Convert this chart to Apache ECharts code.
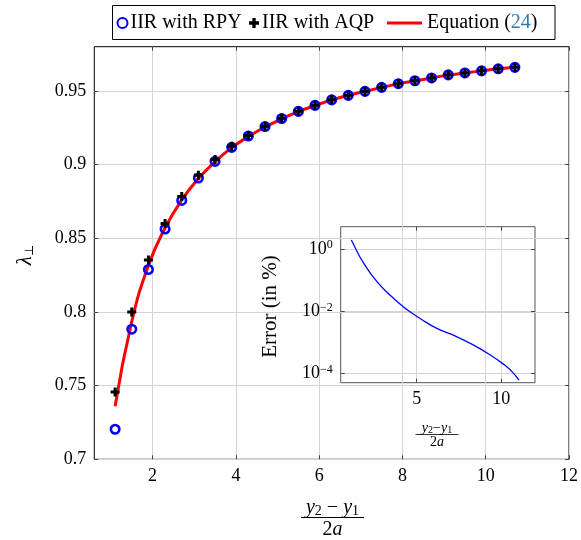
<!DOCTYPE html>
<html><head><meta charset="utf-8">
<script src="https://cdn.jsdelivr.net/npm/echarts@6/dist/echarts.min.js"></script>
<style>html,body{margin:0;padding:0;background:#fff}#c{width:581px;height:540px}</style>
</head><body><div id="c"></div>
<script>
// ---- data ----
const xVals = [1.1,1.5,1.9,2.3,2.7,3.1,3.5,3.9,4.3,4.7,5.1,5.5,5.9,6.3,6.7,7.1,7.5,7.9,8.3,8.7,9.1,9.5,9.9,10.3,10.7];
const rpy = [0.7204,0.7883,0.8288,0.8563,0.8757,0.8909,0.9022,0.9117,0.9194,0.9258,0.9313,0.9361,0.9402,0.9439,0.9470,0.9497,0.9524,0.9549,0.9569,0.9588,0.9609,0.9622,0.9636,0.9650,0.9660];
const aqp = [0.7457,0.8000,0.8352,0.8601,0.8784,0.8927,0.9035,0.9124,0.9198,0.9260,0.9315,0.9362,0.9403,0.9440,0.9471,0.9498,0.9525,0.9549,0.9569,0.9588,0.9609,0.9622,0.9636,0.9650,0.9660];
const eqn = [0.7360,0.7935,0.8315,0.8570,0.8760,0.8905,0.9020,0.9115,0.9190,0.9255,0.9310,0.9360,0.9400,0.9438,0.9470,0.9497,0.9523,0.9548,0.9568,0.9588,0.9607,0.9622,0.9636,0.9650,0.9660];
const errX = [1.13,1.38,1.63,2.02,2.22,2.71,3.21,3.61,4.20,4.60,5.20,6.19,7.38,8.37,9.36,10.15,10.65,11.05];
const errVals = [2.0,1.07,0.575,0.263,0.182,0.0832,0.0427,0.0269,0.0141,0.00977,0.00589,0.00282,0.00151,0.000813,0.000389,0.000195,0.000112,0.0000603];
const xTicks = [2,4,6,8,10,12];
const yTicks = [0.7,0.75,0.8,0.85,0.9,0.95];
const insetXTicks = [5,10];
const insetYTicks = [0.0001,0.01,1];
const seriesNames = ['IIR with RPY','IIR with AQP','Equation (24)'];

const FONT = '"Liberation Serif", "DejaVu Serif", serif';
const gridColor = '#d4d4d4';
const chart = echarts.init(document.getElementById('c'), null, {renderer:'canvas'});

function xAx(grid, min, max, ticks, pos, showLabel, split, fs){
  return {type:'value', gridIndex:grid, min:min, max:max, position:pos,
    axisLine:{show:false},
    axisTick:{show:true, inside:true, length:4, customValues:ticks, lineStyle:{color:'#444'}},
    axisLabel:{show:showLabel, customValues:ticks, fontFamily:FONT, fontSize:fs, color:'#000', margin:8},
    splitLine:{show:split, lineStyle:{color:gridColor, width:1}}};
}
const plusPath = 'path://M3,0H6V3H9V6H6V9H3V6H0V3H3Z';

const option = {
  animation:false,
  backgroundColor:'#fff',
  grid:[
    {left:94.3, top:46.7, width:478, height:412.6, show:true, borderColor:'#000', borderWidth:1, containLabel:false},
    {left:340.7, top:226.7, width:194.3, height:156, show:true, borderColor:'#555', borderWidth:1, containLabel:false}
  ],
  xAxis:[
    xAx(0,0.6,12,xTicks,'bottom',true,true,18),
    xAx(0,0.6,12,xTicks,'top',false,false,18),
    xAx(1,0.5,12,insetXTicks,'bottom',true,true,18),
    xAx(1,0.5,12,insetXTicks,'top',false,false,18)
  ],
  yAxis:[
    {type:'value', gridIndex:0, min:0.7, max:0.98, position:'left',
      axisLine:{show:false},
      axisTick:{show:true, inside:true, length:4, customValues:yTicks, lineStyle:{color:'#444'}},
      axisLabel:{customValues:yTicks, fontFamily:FONT, fontSize:18, color:'#000', margin:8,
        formatter:v=>String(+v.toFixed(2))},
      splitLine:{show:true, lineStyle:{color:gridColor, width:1}}},
    {type:'value', gridIndex:0, min:0.7, max:0.98, position:'right',
      axisLine:{show:false},
      axisTick:{show:true, inside:true, length:4, customValues:yTicks, lineStyle:{color:'#444'}},
      axisLabel:{show:false}, splitLine:{show:false}},
    {type:'log', logBase:10, gridIndex:1, min:5.0e-5, max:5.37, position:'left',
      axisLine:{show:false},
      axisTick:{show:true, inside:true, length:4, customValues:insetYTicks, lineStyle:{color:'#444'}},
      axisLabel:{customValues:insetYTicks, fontFamily:FONT, fontSize:18, color:'#000', margin:8,
        formatter:v=>{const e=Math.round(Math.log10(v)); return '{b|10}{s|'+(e<0?'\u2212'+(-e):e)+'}';},
        rich:{b:{fontFamily:FONT, fontSize:18, lineHeight:20, color:'#000'}, s:{fontFamily:FONT, fontSize:12, lineHeight:12, verticalAlign:'top', color:'#000'}}},
      splitLine:{show:true, lineStyle:{color:gridColor, width:1}}},
    {type:'log', logBase:10, gridIndex:1, min:5.0e-5, max:5.37, position:'right',
      axisLine:{show:false},
      axisTick:{show:true, inside:true, length:4, customValues:insetYTicks, lineStyle:{color:'#444'}},
      axisLabel:{show:false}, splitLine:{show:false}}
  ],
  legend:[
    {data:[seriesNames[0]], left:116.5, top:13, padding:0, itemWidth:10, itemHeight:10, itemGap:0,
      textStyle:{fontFamily:FONT, fontSize:20, color:'#000', padding:[0,0,0,-2]}},
    {data:[seriesNames[1]], left:249, top:13, padding:0, itemWidth:10, itemHeight:10, itemGap:0,
      textStyle:{fontFamily:FONT, fontSize:20, color:'#000', padding:[0,0,0,-2]}},
    {data:[{name:seriesNames[2], icon:'rect'}], left:387, top:13, padding:0, itemWidth:35, itemHeight:3, itemGap:0,
      formatter:()=>'{a|Equation (}{b|24}{a|)}',
      textStyle:{fontFamily:FONT, fontSize:20, color:'#000',
        rich:{a:{fontFamily:FONT, fontSize:20, color:'#000'}, b:{fontFamily:FONT, fontSize:20, color:'#2b7bba'}}}}
  ],
  series:[
    {name:seriesNames[2], type:'line', xAxisIndex:0, yAxisIndex:0, smooth:true, symbol:'none', z:2,
      lineStyle:{color:'#ff0000', width:3}, itemStyle:{color:'#ff0000'},
      data:xVals.map((x,i)=>[x,eqn[i]])},
    {name:seriesNames[0], type:'scatter', xAxisIndex:0, yAxisIndex:0, symbol:'circle', symbolSize:8.5, z:3,
      itemStyle:{color:'rgba(0,0,0,0)', borderColor:'#0000ff', borderWidth:2.6, opacity:1},
      data:xVals.map((x,i)=>[x,rpy[i]])},
    {name:seriesNames[1], type:'scatter', xAxisIndex:0, yAxisIndex:0, symbol:plusPath, symbolSize:9, z:4,
      itemStyle:{color:'#000', opacity:1},
      data:xVals.map((x,i)=>[x,aqp[i]])},
    {name:'error', type:'line', xAxisIndex:2, yAxisIndex:2, smooth:true, symbol:'none', z:2,
      lineStyle:{color:'#0000ff', width:1.3},
      data:errX.map((x,i)=>[x,errVals[i]])}
  ],
  graphic:[
    {type:'rect', shape:{x:112.5, y:5.5, width:442.5, height:34}, style:{fill:'none', stroke:'#000', lineWidth:1}, silent:true},
    // main x-axis label (fraction)
    {type:'text', x:332.5, y:508, style:{text:'{i|y}{s|2}{o| \u2212 }{i|y}{s|1}', align:'center', verticalAlign:'middle',
      rich:{i:{fontFamily:FONT, fontStyle:'italic', fontSize:20, lineHeight:20, fill:'#000'},
            o:{fontFamily:FONT, fontSize:20, lineHeight:20, fill:'#000'},
            s:{fontFamily:FONT, fontSize:14, lineHeight:12, verticalAlign:'bottom', fill:'#000'}}}},
    {type:'line', shape:{x1:301, y1:517.5, x2:364, y2:517.5}, style:{stroke:'#000', lineWidth:1}},
    {type:'text', x:332.5, y:529.5, style:{text:'{n|2}{i|a}', align:'center', verticalAlign:'middle',
      rich:{i:{fontFamily:FONT, fontStyle:'italic', fontSize:20, fill:'#000'}, n:{fontFamily:FONT, fontSize:20, fill:'#000'}}}},
    // main y-axis label
    {type:'text', x:25, y:255, rotation:Math.PI/2, style:{text:'{l|\u03bb}{s|\u22a5}', align:'center', verticalAlign:'middle',
      rich:{l:{fontFamily:FONT, fontStyle:'italic', fontSize:21, lineHeight:22, fill:'#000'},
            s:{fontFamily:'"DejaVu Serif", serif', fontSize:12, lineHeight:10, verticalAlign:'bottom', fill:'#000'}}}},
    // inset y label
    {type:'text', x:270, y:306.5, rotation:Math.PI/2, style:{text:'Error (in %)', align:'center', verticalAlign:'middle',
      fontFamily:FONT, fontSize:21, fill:'#000'}},
    // inset x label
    {type:'text', x:437, y:428, style:{text:'{i|y}{s|2}{o|\u2212}{i|y}{s|1}', align:'center', verticalAlign:'middle',
      rich:{i:{fontFamily:FONT, fontStyle:'italic', fontSize:14, lineHeight:14, fill:'#000'},
            o:{fontFamily:FONT, fontSize:14, lineHeight:14, fill:'#000'},
            s:{fontFamily:FONT, fontSize:10, lineHeight:9, verticalAlign:'bottom', fill:'#000'}}}},
    {type:'line', shape:{x1:415.5, y1:434.5, x2:458.5, y2:434.5}, style:{stroke:'#000', lineWidth:0.8}},
    {type:'text', x:437, y:442.5, style:{text:'{n|2}{i|a}', align:'center', verticalAlign:'middle',
      rich:{i:{fontFamily:FONT, fontStyle:'italic', fontSize:14, fill:'#000'}, n:{fontFamily:FONT, fontSize:14, fill:'#000'}}}}
  ]
};
chart.setOption(option);
</script>
</body></html>
